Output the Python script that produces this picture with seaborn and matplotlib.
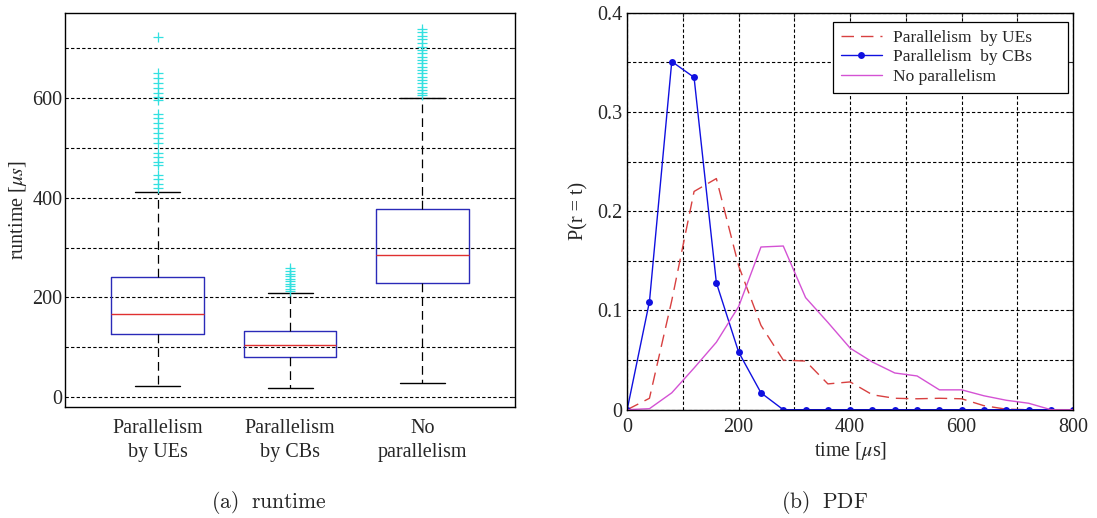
import seaborn as sns
import matplotlib.pyplot as plt

# Left panel: runtime box plot summary (values in microseconds)
groups = ["Parallelism\nby UEs", "Parallelism\nby CBs", "No\nparallelism"]
whisker_low = [22, 18, 28]
q1 = [126, 81, 228]
median = [166, 105, 286]
q3 = [241, 132, 378]
whisker_high = [412, 209, 601]
fliers_ues = [722, 650, 640, 630, 620, 610, 603, 596, 567, 560, 550, 540,
              530, 520, 510, 490, 482, 472, 465, 445, 437, 428, 420]
fliers_cbs = [258, 252, 247, 242, 237, 232, 227, 222, 217, 213]
fliers_no = [738, 732, 725, 718, 710, 703, 697, 690, 683, 676, 670, 663,
             656, 650, 643, 636, 630, 623, 617, 611, 606]

# Right panel: PDF of runtime
time_us = [0, 40, 80, 120, 160, 200, 240, 280, 320, 360, 400,
           440, 480, 520, 560, 600, 640, 680, 720, 760, 800]
pdf_ues = [0, 0.0115, 0.11, 0.22, 0.233, 0.145, 0.085, 0.05, 0.049, 0.026, 0.028,
           0.015, 0.0115, 0.011, 0.0115, 0.011, 0.004, 0.0005, 0, 0, 0]
pdf_cbs = [0, 0.109, 0.351, 0.335, 0.128, 0.058, 0.017, 0, 0, 0, 0,
           0, 0, 0, 0, 0, 0, 0, 0, 0, 0]
pdf_no = [0, 0.001, 0.017, 0.042, 0.068, 0.104, 0.164, 0.165, 0.113, 0.088, 0.062,
          0.048, 0.037, 0.034, 0.020, 0.020, 0.014, 0.0095, 0.0065, 0, 0]
legend_labels = ["Parallelism  by UEs", "Parallelism  by CBs", "No parallelism"]

sns.set_style("white")
plt.rcParams["font.family"] = ["Liberation Serif", "DejaVu Serif"]
plt.rcParams["mathtext.fontset"] = "stix"
plt.rcParams["axes.edgecolor"] = "black"
plt.rcParams["axes.linewidth"] = 1.0

fig = plt.figure(figsize=(10.97, 5.18), dpi=100)
ax1 = fig.add_axes([0.0593, 0.2143, 0.4102, 0.760])
ax2 = fig.add_axes([0.5717, 0.2091, 0.4066, 0.766])

grid_ls = (0, (3, 2))

# ---- (a) runtime box plot
stats = []
for i, fl in enumerate([fliers_ues, fliers_cbs, fliers_no]):
    stats.append({"whislo": whisker_low[i], "q1": q1[i], "med": median[i],
                  "q3": q3[i], "whishi": whisker_high[i], "fliers": fl,
                  "label": groups[i]})
ax1.bxp(stats, positions=[1, 2, 3], widths=0.70, showfliers=True,
        boxprops=dict(color="#2a2ab8", linewidth=1.0),
        medianprops=dict(color="#e03030", linewidth=1.0),
        whiskerprops=dict(color="black", linewidth=0.9, linestyle=(0, (7, 4))),
        capprops=dict(color="black", linewidth=1.0),
        capwidths=0.34,
        flierprops=dict(marker="+", markeredgecolor="#33e0e0", markersize=7,
                        markeredgewidth=0.9, linestyle="none"))
ax1.set_xlim(0.3, 3.7)
ax1.set_ylim(-20, 770)
ax1.set_yticks(range(0, 800, 100),
               ["0", "", "200", "", "400", "", "600", ""])
ax1.set_xticks([1, 2, 3], groups)
for lbl in ax1.get_xticklabels():
    lbl.set_linespacing(1.35)
ax1.yaxis.grid(True, color="black", linestyle=grid_ls, linewidth=0.8)
ax1.set_axisbelow(True)
ax1.tick_params(axis="y", direction="in", length=3, right=True, labelsize=14.5, pad=2)
ax1.tick_params(axis="x", length=0, labelsize=14.5, pad=9)
ax1.set_ylabel(r"runtime [$\mu s$]", fontsize=14.5, labelpad=2)

# ---- (b) PDF
sns.lineplot(x=time_us, y=pdf_ues, ax=ax2, color="#d84040", linewidth=1.0,
             linestyle=(0, (9, 5)), label=legend_labels[0])
sns.lineplot(x=time_us, y=pdf_cbs, ax=ax2, color="#1010e0", linewidth=1.0,
             marker="o", markersize=5, markeredgewidth=0, label=legend_labels[1])
sns.lineplot(x=time_us, y=pdf_no, ax=ax2, color="#d452d4", linewidth=1.0,
             label=legend_labels[2])
ax2.set_xlim(0, 800)
ax2.set_ylim(0, 0.4)
ax2.set_xticks(range(0, 900, 100),
               ["0", "", "200", "", "400", "", "600", "", "800"])
ax2.set_yticks([0, 0.05, 0.1, 0.15, 0.2, 0.25, 0.3, 0.35, 0.4],
               ["0", "", "0.1", "", "0.2", "", "0.3", "", "0.4"])
ax2.grid(True, color="black", linestyle=grid_ls, linewidth=0.8)
ax2.set_axisbelow(True)
ax2.tick_params(direction="in", length=3, top=True, right=True, labelsize=14.5)
ax2.tick_params(axis="x", pad=6)
ax2.set_xlabel(r"time [$\mu$s]", fontsize=14.5, labelpad=2)
ax2.set_ylabel("P(r = t)", fontsize=14.5, labelpad=6)
for sp in ax2.spines.values():
    sp.set_zorder(3)
leg = ax2.legend(loc="upper left", bbox_to_anchor=(0.4614, 0.804, 0.5266, 0.174),
                 mode="expand", borderaxespad=0, fontsize=12.5, handlelength=2.35,
                 handletextpad=0.65, labelspacing=0.2, fancybox=False,
                 framealpha=1, edgecolor="black", borderpad=0.45)
leg.get_frame().set_linewidth(0.9)

fig.text(269 / 1097, 1 - 503 / 518, r"$\mathrm{(a)\ \ runtime}$", ha="center",
         va="center", fontsize=15.5, math_fontfamily="cm")
fig.text(825 / 1097, 1 - 503 / 518, r"$\mathrm{(b)\ \ PDF}$", ha="center",
         va="center", fontsize=15.5, math_fontfamily="cm")

fig.savefig("out.png", dpi=100)
